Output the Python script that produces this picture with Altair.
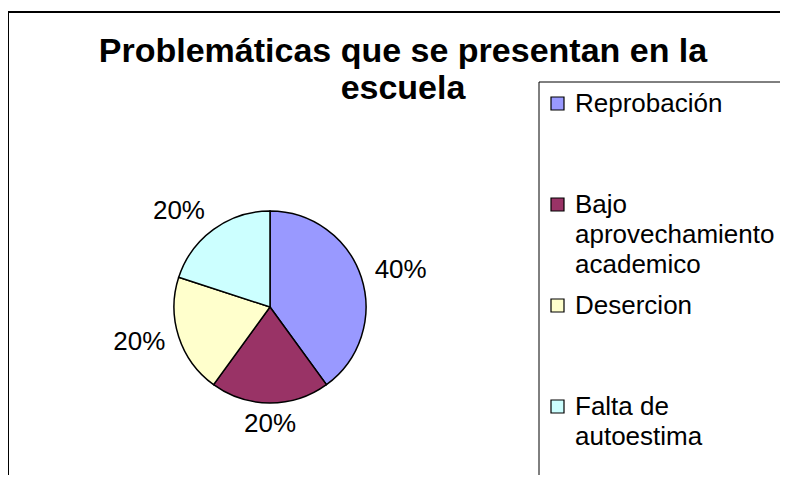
import altair as alt
import pandas as pd

# ---- data ----
categories = ["Reprobación", "Bajo aprovechamiento academico", "Desercion", "Falta de autoestima"]
legend_labels = ["Reprobación", "Bajo\naprovechamiento\nacademico", "Desercion", "Falta de\nautoestima"]
values = [40, 20, 20, 20]
colors = ["#9999FF", "#993366", "#FFFFCC", "#CCFFFF"]
title_lines = ["Problemáticas que se presentan en la", "escuela"]

df = pd.DataFrame({
    "cat": categories,
    "label": legend_labels,
    "value": values,
    "idx": list(range(len(categories))),
})

FONT = "Liberation Sans"
CX, CY, R = 262, 295, 96          # pie centre / radius (px, inside the view)
LX, LY0, LDY = 549.5, 91.5, 101   # legend swatch column and row spacing

color = alt.Color("cat:N", scale=alt.Scale(domain=categories, range=colors), legend=None)

# legend frame
box = alt.Chart(alt.Data(values=[{}])).mark_rect(
    fill="white", stroke="black", strokeWidth=1
).encode(x=alt.value(531), x2=alt.value(900), y=alt.value(70), y2=alt.value(700))

pie = alt.Chart(df).mark_arc(outerRadius=R, stroke="black", strokeWidth=1.5).encode(
    theta=alt.Theta("value:Q", stack=True),
    order=alt.Order("idx:Q"),
    color=color,
    x=alt.value(CX),
    y=alt.value(CY),
)

pct = alt.Chart(df).transform_window(
    cum="sum(value)", sort=[alt.SortField("idx")]
).transform_joinaggregate(
    total="sum(value)"
).transform_calculate(
    mid="2*PI*(datum.cum - datum.value/2)/datum.total",
    s="sin(datum.mid)",
    lx=f"{CX} + 109*datum.s + 27*(datum.s > 0.1 ? 1 : (datum.s < -0.1 ? -1 : 0))",
    ly=f"{CY} - 1 - 118*cos(datum.mid)",
    pct="format(datum.value/datum.total, '.0%')",
).mark_text(font=FONT, fontSize=26, align="center", baseline="middle", color="black").encode(
    x=alt.X("lx:Q", scale=None),
    y=alt.Y("ly:Q", scale=None),
    text="pct:N",
)

swatch = alt.Chart(df).transform_calculate(
    ly=f"{LY0} + datum.idx*{LDY}"
).mark_square(size=169, stroke="black", strokeWidth=1.2, opacity=1).encode(
    x=alt.value(LX),
    y=alt.Y("ly:Q", scale=None),
    color=color,
)

legtext = alt.Chart(df).transform_calculate(
    ly=f"{LY0} + 8 + datum.idx*{LDY}"
).mark_text(
    font=FONT, fontSize=26, align="left", baseline="alphabetic",
    lineBreak="\n", lineHeight=30, color="black"
).encode(
    x=alt.value(567),
    y=alt.Y("ly:Q", scale=None),
    text="label:N",
)

title = alt.Chart(alt.Data(values=[{}])).mark_text(
    text=title_lines, font=FONT, fontSize=34, fontWeight="bold",
    align="center", baseline="alphabetic", lineHeight=37, color="black"
).encode(x=alt.value(395), y=alt.value(50))

chart = alt.layer(box, pie, pct, swatch, legtext, title).properties(
    width=790,
    height=480,
    padding={"left": 0, "top": 4, "right": -18, "bottom": -17},
    autosize=alt.AutoSizeParams(type="none"),
    background="white",
).configure_view(stroke="black", strokeWidth=2, fill="white")

chart.save("out.html", embed_options={"renderer": "svg", "actions": False})
